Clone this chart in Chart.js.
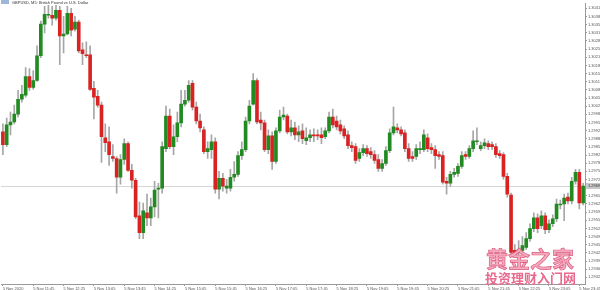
<!DOCTYPE html>
<html>
<head>
<meta charset="utf-8">
<script src="https://cdn.jsdelivr.net/npm/chart.js@4.4.0/dist/chart.umd.min.js"></script>
<style>
  body { margin: 0; background: #fff; }
  #wrap { position: relative; width: 600px; height: 290px; }
  #hdr { position: absolute; left: 1px; top: 0px; font: 4px 'Liberation Sans', Arial, sans-serif; color: #333; white-space: nowrap; }
  #hdr i { display: inline-block; width: 8px; height: 4px; background: #9fb6d8; vertical-align: top; margin-right: 3px; }
  #wm1 { position: absolute; left: 486px; top: 241px; font: bold 22px 'Noto Sans CJK SC', sans-serif; color: #f4a9bd;
         -webkit-text-stroke: 0.7px #db5a80; letter-spacing: 0px; white-space: nowrap; }
  #wm2 { position: absolute; left: 485px; top: 268px; font: bold 13px 'Noto Sans CJK SC', sans-serif; color: #e8698e;
         white-space: nowrap; }
</style>
</head>
<body>
<div id="wrap">
  <canvas id="chart-candles" width="600" height="290"></canvas>
  <div id="hdr"><i></i>GBPUSD, M5: British Pound vs U.S. Dollar</div>
  <div id="wm1">黄金之家</div>
  <div id="wm2">投资理财入门网</div>
</div>
<script>
// GBPUSD M5 - 5 Nov, 154 根 K 線 (讀圖估值)
const opens = [
  1.29916, 1.29864, 1.29944, 1.29956, 1.29988, 1.30048, 1.30064, 1.30140, 1.30096, 1.30124,
  1.30224, 1.30352, 1.30388, 1.30388, 1.30376, 1.30408, 1.30304, 1.30312, 1.30396, 1.30332,
  1.30360, 1.30248, 1.30228, 1.30228, 1.30092, 1.30060, 1.30024, 1.29892, 1.29876, 1.29816,
  1.29808, 1.29732, 1.29804, 1.29868, 1.29760, 1.29720, 1.29576, 1.29508, 1.29588, 1.29568,
  1.29612, 1.29684, 1.29688, 1.29848, 1.29980, 1.29856, 1.29896, 1.29952, 1.30028, 1.30044,
  1.30112, 1.30016, 1.29960, 1.29924, 1.29836, 1.29844, 1.29876, 1.29684, 1.29728, 1.29688,
  1.29688, 1.29732, 1.29744, 1.29820, 1.29844, 1.29960, 1.30028, 1.30124, 1.29964, 1.29952,
  1.29844, 1.29900, 1.29796, 1.29920, 1.29976, 1.29980, 1.29916, 1.29932, 1.29904, 1.29920,
  1.29880, 1.29892, 1.29904, 1.29904, 1.29904, 1.29896, 1.29920, 1.29976, 1.29960, 1.29944,
  1.29928, 1.29904, 1.29860, 1.29856, 1.29808, 1.29832, 1.29848, 1.29836, 1.29824, 1.29804,
  1.29768, 1.29788, 1.29840, 1.29912, 1.29932, 1.29924, 1.29912, 1.29848, 1.29816, 1.29816,
  1.29844, 1.29844, 1.29892, 1.29852, 1.29844, 1.29824, 1.29820, 1.29716, 1.29708, 1.29744,
  1.29748, 1.29776, 1.29824, 1.29816, 1.29848, 1.29876, 1.29848, 1.29860, 1.29868, 1.29864,
  1.29856, 1.29828, 1.29824, 1.29736, 1.29660, 1.29436, 1.29428, 1.29436, 1.29448, 1.29484,
  1.29524, 1.29568, 1.29536, 1.29576, 1.29520, 1.29544, 1.29564, 1.29620, 1.29624, 1.29652,
  1.29636, 1.29716, 1.29752, 1.29628
];
const highs = [
  1.29948, 1.29972, 1.29996, 1.30024, 1.30084, 1.30104, 1.30176, 1.30172, 1.30164, 1.30264,
  1.30364, 1.30424, 1.30428, 1.30424, 1.30428, 1.30424, 1.30384, 1.30424, 1.30416, 1.30384,
  1.30368, 1.30276, 1.30280, 1.30264, 1.30120, 1.30084, 1.30036, 1.29948, 1.29936, 1.29864,
  1.29816, 1.29824, 1.29888, 1.29876, 1.29784, 1.29728, 1.29632, 1.29628, 1.29664, 1.29648,
  1.29716, 1.29708, 1.29876, 1.30020, 1.30008, 1.29944, 1.29996, 1.30084, 1.30084, 1.30124,
  1.30124, 1.30036, 1.29988, 1.29936, 1.29876, 1.29904, 1.29892, 1.29756, 1.29748, 1.29724,
  1.29764, 1.29796, 1.29836, 1.29876, 1.29976, 1.30044, 1.30152, 1.30132, 1.29996, 1.29964,
  1.29924, 1.29916, 1.29932, 1.30004, 1.30016, 1.29988, 1.29964, 1.29956, 1.29940, 1.29948,
  1.29932, 1.29924, 1.29928, 1.29924, 1.29932, 1.29932, 1.29996, 1.30008, 1.29980, 1.29964,
  1.29940, 1.29920, 1.29876, 1.29868, 1.29848, 1.29864, 1.29860, 1.29852, 1.29840, 1.29824,
  1.29804, 1.29856, 1.29928, 1.30016, 1.29948, 1.29936, 1.29924, 1.29868, 1.29836, 1.29864,
  1.29876, 1.29924, 1.29908, 1.29868, 1.29860, 1.29836, 1.29836, 1.29732, 1.29756, 1.29768,
  1.29788, 1.29836, 1.29836, 1.29860, 1.29920, 1.29932, 1.29876, 1.29888, 1.29880, 1.29876,
  1.29868, 1.29840, 1.29832, 1.29748, 1.29668, 1.29460, 1.29476, 1.29492, 1.29508, 1.29544,
  1.29588, 1.29584, 1.29596, 1.29588, 1.29560, 1.29580, 1.29644, 1.29640, 1.29664, 1.29668,
  1.29732, 1.29764, 1.29764, 1.29708
];
const lows = [
  1.29824, 1.29856, 1.29904, 1.29948, 1.29976, 1.30036, 1.30056, 1.30084, 1.30088, 1.30120,
  1.30216, 1.30316, 1.30376, 1.30348, 1.30368, 1.30188, 1.30236, 1.30308, 1.30304, 1.30324,
  1.30236, 1.30188, 1.30216, 1.30084, 1.29968, 1.30016, 1.29792, 1.29836, 1.29780, 1.29796,
  1.29668, 1.29704, 1.29784, 1.29756, 1.29688, 1.29564, 1.29484, 1.29484, 1.29536, 1.29536,
  1.29572, 1.29568, 1.29668, 1.29836, 1.29848, 1.29824, 1.29876, 1.29936, 1.30020, 1.30036,
  1.30004, 1.29948, 1.29916, 1.29828, 1.29808, 1.29808, 1.29668, 1.29644, 1.29676, 1.29668,
  1.29676, 1.29716, 1.29736, 1.29804, 1.29836, 1.29948, 1.30024, 1.29948, 1.29924, 1.29836,
  1.29828, 1.29764, 1.29788, 1.29912, 1.29964, 1.29908, 1.29900, 1.29884, 1.29876, 1.29868,
  1.29864, 1.29876, 1.29876, 1.29884, 1.29868, 1.29888, 1.29912, 1.29932, 1.29924, 1.29908,
  1.29888, 1.29848, 1.29836, 1.29788, 1.29796, 1.29820, 1.29816, 1.29808, 1.29788, 1.29756,
  1.29756, 1.29780, 1.29832, 1.29904, 1.29912, 1.29900, 1.29836, 1.29796, 1.29796, 1.29804,
  1.29828, 1.29836, 1.29836, 1.29828, 1.29768, 1.29804, 1.29704, 1.29664, 1.29696, 1.29732,
  1.29736, 1.29768, 1.29804, 1.29808, 1.29836, 1.29864, 1.29840, 1.29848, 1.29844, 1.29844,
  1.29812, 1.29808, 1.29724, 1.29652, 1.29412, 1.29408, 1.29416, 1.29428, 1.29440, 1.29472,
  1.29512, 1.29508, 1.29524, 1.29504, 1.29508, 1.29532, 1.29552, 1.29604, 1.29556, 1.29624,
  1.29624, 1.29704, 1.29604, 1.29620
];
const closes = [
  1.29864, 1.29944, 1.29956, 1.29988, 1.30048, 1.30068, 1.30140, 1.30096, 1.30124, 1.30224,
  1.30352, 1.30392, 1.30392, 1.30376, 1.30408, 1.30304, 1.30312, 1.30396, 1.30328, 1.30360,
  1.30244, 1.30232, 1.30224, 1.30088, 1.30056, 1.30024, 1.29896, 1.29872, 1.29824, 1.29808,
  1.29732, 1.29804, 1.29868, 1.29760, 1.29720, 1.29572, 1.29508, 1.29596, 1.29568, 1.29612,
  1.29680, 1.29688, 1.29856, 1.29980, 1.29856, 1.29896, 1.29952, 1.30028, 1.30044, 1.30104,
  1.30016, 1.29960, 1.29932, 1.29836, 1.29848, 1.29876, 1.29684, 1.29728, 1.29696, 1.29696,
  1.29732, 1.29744, 1.29820, 1.29844, 1.29960, 1.30020, 1.30124, 1.29956, 1.29952, 1.29844,
  1.29900, 1.29796, 1.29920, 1.29976, 1.29984, 1.29916, 1.29932, 1.29904, 1.29916, 1.29888,
  1.29892, 1.29904, 1.29900, 1.29900, 1.29892, 1.29920, 1.29976, 1.29944, 1.29936, 1.29920,
  1.29900, 1.29860, 1.29852, 1.29800, 1.29832, 1.29848, 1.29828, 1.29824, 1.29800, 1.29768,
  1.29788, 1.29840, 1.29912, 1.29936, 1.29924, 1.29908, 1.29848, 1.29808, 1.29808, 1.29848,
  1.29848, 1.29904, 1.29848, 1.29844, 1.29820, 1.29816, 1.29712, 1.29708, 1.29744, 1.29752,
  1.29776, 1.29820, 1.29816, 1.29848, 1.29880, 1.29880, 1.29860, 1.29872, 1.29856, 1.29856,
  1.29824, 1.29820, 1.29736, 1.29664, 1.29428, 1.29424, 1.29440, 1.29456, 1.29484, 1.29524,
  1.29568, 1.29524, 1.29576, 1.29520, 1.29544, 1.29564, 1.29624, 1.29624, 1.29648, 1.29636,
  1.29716, 1.29752, 1.29628, 1.29696
];
// 時間軸標籤 (每 8 根一個)
const xTickLabels = [
  '5 Nov 2020', '5 Nov 11:45', '5 Nov 12:25', '5 Nov 13:05', '5 Nov 13:45',
  '5 Nov 14:25', '5 Nov 15:05', '5 Nov 15:45', '5 Nov 16:25', '5 Nov 17:05',
  '5 Nov 17:45', '5 Nov 18:25', '5 Nov 19:05', '5 Nov 19:45', '5 Nov 20:25',
  '5 Nov 21:05', '5 Nov 21:45', '5 Nov 22:25', '5 Nov 23:05', '5 Nov 23:45'
];
const yMin = 1.29300;
const yMax = 1.30436;
const yStep = 0.00033;

const UP = '#218a21';
const DOWN = '#d92323';
const WICK = '#a6a6a6';
const AXIS = '#9a9a9a';

const labels = opens.map((_, i) => String(i));
const bodies = opens.map((o, i) => [Math.min(o, closes[i]), Math.max(o, closes[i])]);
const wicks = lows.map((l, i) => [l, highs[i]]);
const bodyColors = opens.map((o, i) => closes[i] >= o ? UP : DOWN);
const lastClose = closes[closes.length - 1];

// 現價線 + 軸上價格標籤
const bidLine = {
  id: 'bidLine',
  beforeDatasetsDraw(chart) {
    const { ctx, chartArea, scales } = chart;
    const y = Math.round(scales.y.getPixelForValue(lastClose)) + 0.5;
    ctx.save();
    ctx.strokeStyle = '#d6d6d6';
    ctx.lineWidth = 1;
    ctx.beginPath();
    ctx.moveTo(chartArea.left, y);
    ctx.lineTo(chartArea.right, y);
    ctx.stroke();
    ctx.restore();
  },
  afterDraw(chart) {
    const { ctx, chartArea, scales } = chart;
    const y = Math.round(scales.y.getPixelForValue(lastClose));
    ctx.save();
    ctx.fillStyle = '#c8c8c8';
    ctx.fillRect(chartArea.right + 1, y - 3, 14, 6);
    ctx.fillStyle = '#333';
    ctx.font = "4px 'Liberation Sans', Arial, sans-serif";
    ctx.textBaseline = 'middle';
    ctx.fillText(lastClose.toFixed(5), chartArea.right + 3, y);
    ctx.restore();
  }
};

const ctx = document.getElementById('chart-candles').getContext('2d');
new Chart(ctx, {
  type: 'bar',
  data: {
    labels: labels,
    datasets: [
      {
        label: 'body',
        data: bodies,
        backgroundColor: bodyColors,
        borderWidth: 0,
        barThickness: 3,
        minBarLength: 1,
        grouped: false,
        order: 0
      },
      {
        label: 'wick',
        data: wicks,
        backgroundColor: WICK,
        borderWidth: 0,
        barThickness: 1,
        grouped: false,
        order: 1
      }
    ]
  },
  plugins: [bidLine],
  options: {
    responsive: false,
    animation: false,
    layout: { padding: { left: 1, top: 0, right: 0, bottom: 0 } },
    plugins: { legend: { display: false }, tooltip: { enabled: false } },
    scales: {
      x: {
        offset: true,
        grid: {
          drawOnChartArea: false,
          offset: false,
          tickLength: 2,
          tickColor: c => (c.index % 8 === 0 ? AXIS : 'rgba(0,0,0,0)')
        },
        border: { color: AXIS },
        ticks: {
          autoSkip: false,
          maxRotation: 0,
          minRotation: 0,
          align: 'start',
          padding: 0,
          color: '#555',
          font: { size: 4, family: "'Liberation Sans', Arial, sans-serif" },
          callback: (v, i) => (i % 8 === 0 ? xTickLabels[i / 8] : '')
        },
        afterFit: s => { s.height = 6; }
      },
      y: {
        position: 'right',
        min: yMin,
        max: yMax,
        grid: { drawOnChartArea: false, tickLength: 2, color: AXIS },
        border: { color: AXIS },
        ticks: {
          stepSize: yStep,
          includeBounds: false,
          autoSkip: false,
          padding: 1,
          color: '#555',
          font: { size: 4, family: "'Liberation Sans', Arial, sans-serif" },
          callback: v => v.toFixed(5)
        },
        afterFit: s => { s.width = 15; }
      }
    }
  }
});
</script>
</body>
</html>
